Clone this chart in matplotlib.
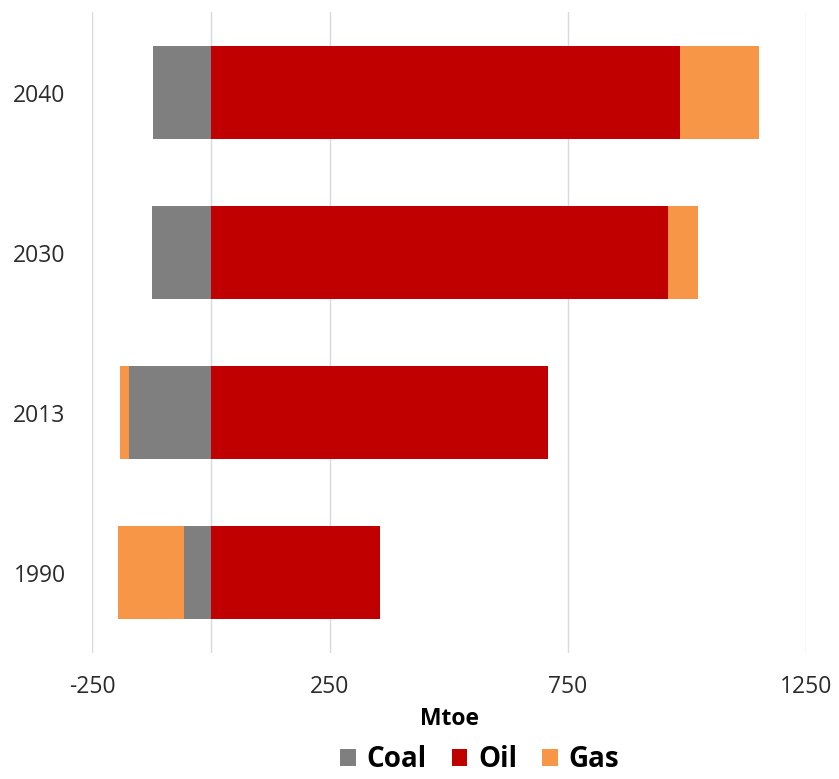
import numpy as np
import matplotlib.pyplot as plt

# Data (Mtoe)
years = ['1990', '2013', '2030', '2040']
coal = [-56, -173, -125, -121]
oil = [356, 707, 959, 986]
gas = [-140, -19, 63, 166]

x_ticks = [-250, 250, 750, 1250]

coal_color = '#7F7F7F'
oil_color = '#C00000'
gas_color = '#F79646'

plt.rcParams['font.family'] = ['Open Sans', 'DejaVu Sans']

fig = plt.figure(figsize=(8.39, 7.79), dpi=100)
ax = fig.add_axes([0.1097, 0.162, 0.851, 0.822])

y = np.arange(len(years))
h = 0.58

ax.barh(y, coal, height=h, color=coal_color, label='Coal', zorder=3)
ax.barh(y, oil, height=h, color=oil_color, label='Oil', zorder=3)
# gas stacks on whichever side it falls
gas_left = [o if g > 0 else c for g, c, o in zip(gas, coal, oil)]
ax.barh(y, gas, left=gas_left, height=h, color=gas_color, label='Gas', zorder=3)

ax.set_xlim(-250, 1250)
ax.set_ylim(-0.5, len(years) - 0.5)
ax.set_xticks(x_ticks)
ax.set_xticklabels([str(t) for t in x_ticks], fontsize=16.5, color='#2b2b2b')
ax.set_yticks(y)
ax.set_yticklabels(years, fontsize=16.5, color='#2b2b2b')
ax.tick_params(axis='x', length=0, pad=16)
ax.tick_params(axis='y', length=0, pad=19)

ax.grid(axis='x', color='#D9D9D9', linewidth=1, zorder=0)
ax.axvline(0, color='#D9D9D9', linewidth=1, zorder=1)
for s in ax.spines.values():
    s.set_visible(False)

ax.set_xlabel('Mtoe', fontsize=16.5, fontweight='bold', labelpad=6)

fig.legend(loc='lower center', bbox_to_anchor=(0.572, -0.026), ncol=3, frameon=False,
           prop={'size': 20, 'weight': 'bold'}, handlelength=0.55, handleheight=0.55,
           handletextpad=0.4, columnspacing=0.9)

fig.savefig('out.png', dpi=100)
